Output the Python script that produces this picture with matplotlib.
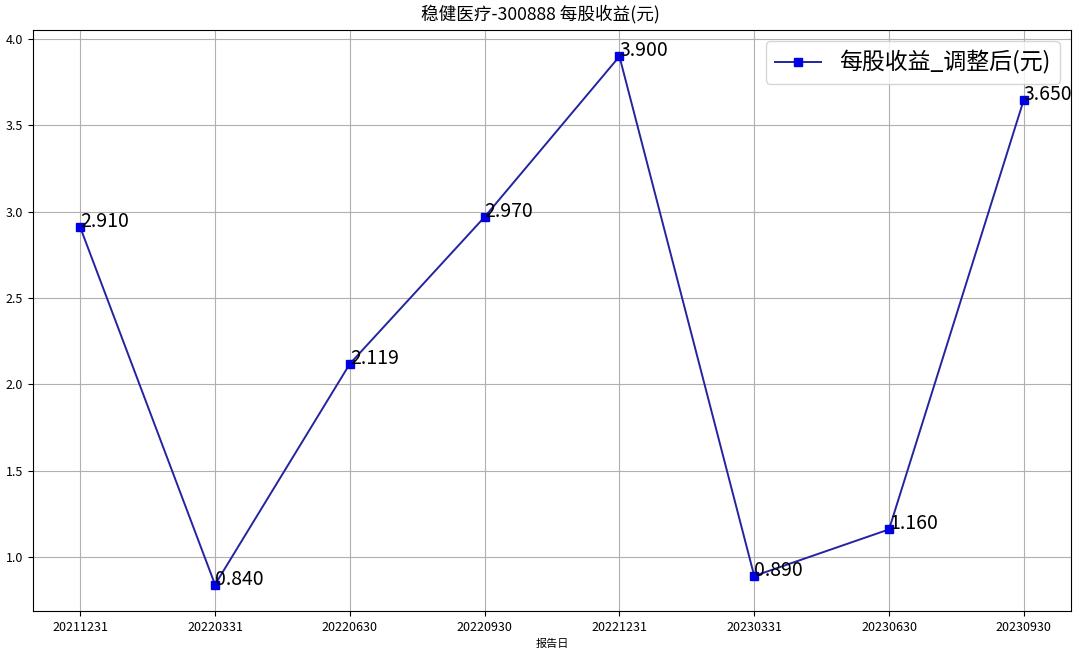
import matplotlib
matplotlib.use("Agg")
import matplotlib.pyplot as plt

plt.rcParams['font.family'] = ['Noto Sans CJK SC', 'DejaVu Sans']
plt.rcParams['axes.unicode_minus'] = False

# data
dates = ['20211231', '20220331', '20220630', '20220930',
         '20221231', '20230331', '20230630', '20230930']
eps = [2.910, 0.840, 2.119, 2.970, 3.900, 0.890, 1.160, 3.650]

fig, ax = plt.subplots(figsize=(10.8, 6.58), dpi=100)
fig.subplots_adjust(left=0.0306, right=0.9917, top=0.9544, bottom=0.0714)

ax.plot(dates, eps, color='#2424a0', marker='s', markersize=6,
        markerfacecolor='#0000e6', markeredgecolor='#0000e6',
        linewidth=1.4, label='每股收益_调整后(元)')
for d, v in zip(dates, eps):
    ax.text(d, v, '%.3f' % v, fontsize=14)

fig.suptitle('稳健医疗-300888 每股收益(元)', fontsize=12.7, y=0.993)
ax.set_xlabel('报告日', fontsize=8)
ax.tick_params(labelsize=9)
ax.grid(True)
ax.legend(loc='upper right', fontsize=16.5)

plt.savefig('out.png', dpi=100)
